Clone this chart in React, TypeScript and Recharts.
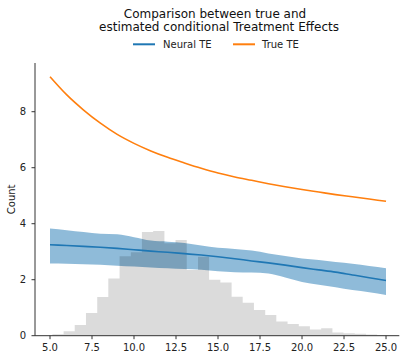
import React from 'react';
import { ComposedChart, Area, Line, XAxis, YAxis, Legend } from 'recharts';

// x positions of the estimated curves
const xPoints = [5, 6, 7, 8, 9, 10, 11, 12, 13, 14, 15, 16, 17, 18, 19, 20, 21, 22, 23, 24, 25];
const trueTE = [9.25, 8.6, 8.06, 7.59, 7.19, 6.87, 6.6, 6.37, 6.17, 5.98, 5.81, 5.67, 5.55, 5.43, 5.32, 5.22, 5.13, 5.04, 4.96, 4.88, 4.8];
const neuralTE = [3.25, 3.22, 3.19, 3.16, 3.12, 3.07, 3.02, 2.98, 2.93, 2.88, 2.82, 2.75, 2.67, 2.6, 2.52, 2.43, 2.35, 2.27, 2.17, 2.07, 1.97];
const neuralLow = [2.58, 2.57, 2.55, 2.53, 2.5, 2.47, 2.44, 2.41, 2.38, 2.36, 2.3, 2.27, 2.26, 2.22, 2.08, 1.92, 1.82, 1.73, 1.63, 1.55, 1.45];
const neuralHigh = [3.83, 3.77, 3.7, 3.64, 3.62, 3.52, 3.4, 3.36, 3.31, 3.22, 3.14, 3.1, 3.04, 2.94, 2.85, 2.76, 2.7, 2.63, 2.57, 2.49, 2.41];

// histogram
const binEdges = [5.14, 5.81, 6.47, 7.14, 7.81, 8.47, 9.14, 9.81, 10.47, 11.14, 11.81, 12.47, 13.14, 13.81, 14.47, 15.14, 15.81, 16.47, 17.14, 17.81, 18.47, 19.14, 19.81, 20.47, 21.14, 21.81, 22.47, 23.14, 23.81, 24.47, 25.14];
const binCounts = [0.05, 0.16, 0.38, 0.81, 1.38, 2.04, 2.84, 2.98, 3.7, 3.74, 3.3, 3.42, 2.35, 2.82, 2.0, 1.9, 1.39, 1.18, 0.92, 0.74, 0.51, 0.42, 0.34, 0.22, 0.27, 0.11, 0.09, 0.07, 0.04, 0.02];

const xTicks = [5, 7.5, 10, 12.5, 15, 17.5, 20, 22.5, 25];
const yTicks = [0, 2, 4, 6, 8];
const titleLines = ['Comparison between true and', 'estimated conditional Treatment Effects'];
const legendItems = [
  { name: 'Neural TE', color: '#1f77b4' },
  { name: 'True TE', color: '#ff7f0e' },
];

const FONT = '"DejaVu Sans", sans-serif';

const curveData = xPoints.map((x, i) => ({
  x,
  trueTE: trueTE[i],
  neuralTE: neuralTE[i],
  band: [neuralLow[i], neuralHigh[i]],
}));

const histData = binEdges.map((x, i) => ({
  x,
  count: i < binCounts.length ? binCounts[i] : binCounts[binCounts.length - 1],
}));

const legendPos = [
  { lineX: 133, textX: 163 },
  { lineX: 233, textX: 262 },
];

const renderLegend = () => (
  <svg width={407} height={60} style={{ display: 'block' }}>
    {legendItems.map((it, i) => (
      <g key={it.name}>
        <line x1={legendPos[i].lineX} x2={legendPos[i].lineX + 22} y1={44.3} y2={44.3} stroke={it.color} strokeWidth={2} />
        <text x={legendPos[i].textX} y={48} fontSize={10} fontFamily={FONT} fill="#222">{it.name}</text>
      </g>
    ))}
  </svg>
);

const CountLabel = (props: any) => {
  const vb = props.viewBox || { y: 63, height: 272.7 };
  const cx = 11.8;
  const cy = vb.y + vb.height / 2;
  return (
    <text x={cx} y={cy} transform={`rotate(-90 ${cx} ${cy})`} textAnchor="middle" dominantBaseline="central" fontSize={10} fontFamily={FONT} fill="#222">
      Count
    </text>
  );
};

export default function App() {
  return (
    <div style={{ position: 'absolute', left: 0, top: 0, width: 407, height: 360, background: '#fff' }}>
      <svg width={407} height={36} style={{ position: 'absolute', left: 0, top: 0 }}>
        <text x={215} y={17.7} textAnchor="middle" fontSize={12} fontFamily={FONT} fill="#111">{titleLines[0]}</text>
        <text x={219} y={30.7} textAnchor="middle" fontSize={12} fontFamily={FONT} fill="#111">{titleLines[1]}</text>
      </svg>
      <ComposedChart width={407} height={360} margin={{ top: 63, right: 7.7, bottom: 0, left: 0 }}>
        <XAxis
          type="number"
          dataKey="x"
          domain={[4.107, 25.79]}
          allowDataOverflow
          ticks={xTicks}
          tickFormatter={(v: number) => v.toFixed(1)}
          height={24.3}
          tickSize={3.5}
          tickMargin={5}
          tick={{ fontSize: 10, fill: '#222', fontFamily: FONT }}
          axisLine={{ stroke: '#333', strokeWidth: 1 }}
          tickLine={{ stroke: '#333', strokeWidth: 1 }}
        />
        <YAxis
          type="number"
          domain={[0, 9.74]}
          allowDataOverflow
          ticks={yTicks}
          width={35}
          tickSize={3.5}
          tickMargin={5.5}
          tick={{ fontSize: 10, fill: '#222', fontFamily: FONT }}
          axisLine={{ stroke: '#333', strokeWidth: 1 }}
          tickLine={{ stroke: '#333', strokeWidth: 1 }}
          label={{ value: 'Count', content: CountLabel }}
        />
        <Legend verticalAlign="middle" layout="horizontal" align="center" content={renderLegend} wrapperStyle={{ position: 'absolute', top: 0, left: 0, width: 407, height: 60 }} />
        <Area
          data={curveData}
          dataKey="band"
          type="monotone"
          stroke="none"
          fill="#1f77b4"
          fillOpacity={0.5}
          isAnimationActive={false}
          legendType="none"
          dot={false}
          activeDot={false}
        />
        <Area
          data={histData}
          dataKey="count"
          type="stepAfter"
          stroke="none"
          fill="#000"
          fillOpacity={0.14}
          isAnimationActive={false}
          legendType="none"
          dot={false}
          activeDot={false}
        />
        <Line
          data={curveData}
          dataKey="neuralTE"
          name="Neural TE"
          type="monotone"
          stroke="#1f77b4"
          strokeWidth={1.6}
          dot={false}
          activeDot={false}
          isAnimationActive={false}
        />
        <Line
          data={curveData}
          dataKey="trueTE"
          name="True TE"
          type="monotone"
          stroke="#ff7f0e"
          strokeWidth={1.6}
          dot={false}
          activeDot={false}
          isAnimationActive={false}
        />
      </ComposedChart>
    </div>
  );
}
